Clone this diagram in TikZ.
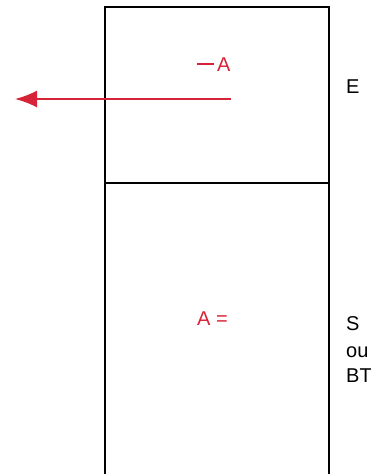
\documentclass[tikz,border=0pt]{standalone}
\usepackage{fontspec}
\setmainfont{Liberation Sans}
\usetikzlibrary{arrows.meta}
\definecolor{redink}{RGB}{215,35,55}
\tikzset{
  frame/.style={line width=2.2pt, black},
  lbl/.style={inner sep=0pt, anchor=base west, font=\fontsize{20}{24}\selectfont},
  redlbl/.style={lbl, text=redink},
  redarrow/.style={line width=1.8pt, redink, -{Latex[length=22pt,width=17pt]}}
}
\begin{document}
\begin{tikzpicture}[x=1pt,y=-1pt]
\useasboundingbox (0,0) rectangle (370,474);
\clip (0,0) rectangle (370,474);
\coordinate (tl) at (105,7);
\coordinate (tr) at (329,7);
\coordinate (bl) at (105,476);
\coordinate (br) at (329,476);
\coordinate (ml) at (105,183);
\coordinate (mr) at (329,183);
\draw[frame] (bl) -- (tl) -- (tr) -- (br);
\draw[frame] (ml) -- (mr);
\coordinate (astart) at (231,99);
\coordinate (aend) at (15,99);
\draw[redarrow] (astart) -- (aend);
\node[redlbl] (minusA) at (197,71) {\rule[6pt]{17pt}{2.4pt}\hspace{3pt}A};
\node[redlbl] (Aeq) at (197,325) {A =};
\node[lbl] (E) at (346,93) {E};
\node[lbl] (S) at (346,330) {S};
\node[lbl] (ou) at (346,357) {ou};
\node[lbl] (BT) at (346,382) {BT};
\end{tikzpicture}
\end{document}
